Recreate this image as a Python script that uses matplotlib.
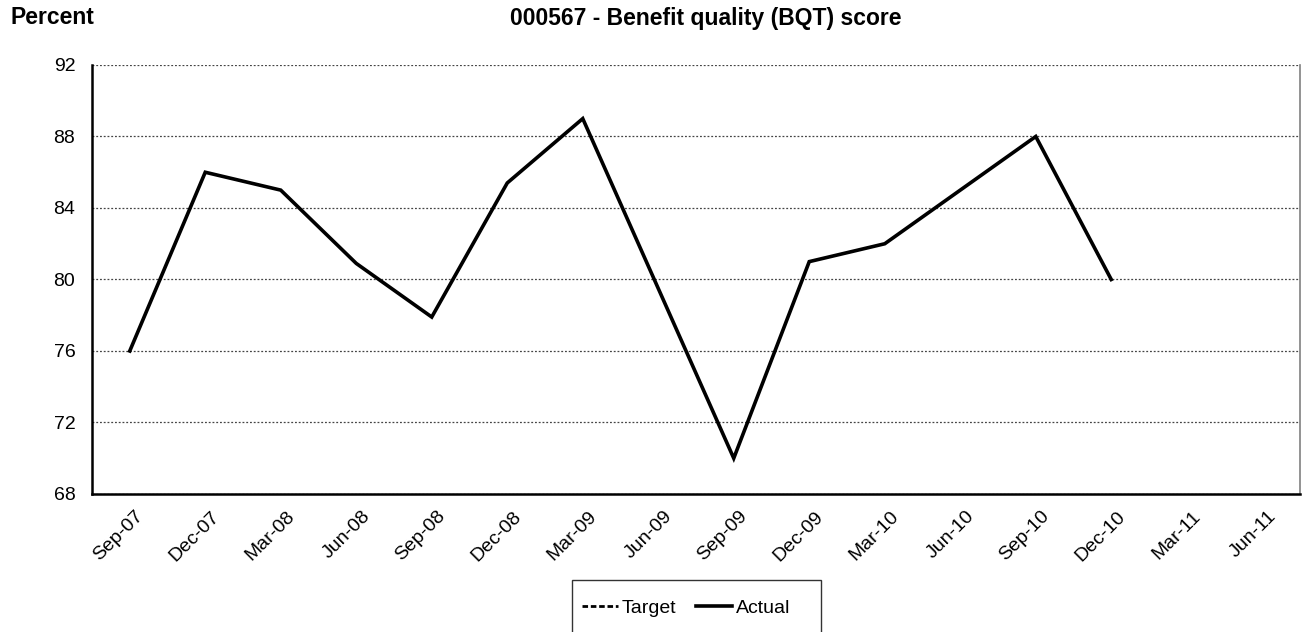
import matplotlib
matplotlib.use("Agg")
import matplotlib.pyplot as plt
import matplotlib.transforms as mtransforms
from matplotlib.patches import Rectangle
import numpy as np

plt.rcParams['font.family'] = ['Liberation Sans', 'DejaVu Sans']

categories = ["Sep-07", "Dec-07", "Mar-08", "Jun-08", "Sep-08", "Dec-08", "Mar-09", "Jun-09",
              "Sep-09", "Dec-09", "Mar-10", "Jun-10", "Sep-10", "Dec-10", "Mar-11", "Jun-11"]
actual = [76.0, 86.0, 85.0, 80.9, 77.9, 85.4, 89.0, 79.5,
          70.0, 81.0, 82.0, 85.0, 88.0, 80.0, np.nan, np.nan]
target = [np.nan] * len(categories)
y_ticks = [68, 72, 76, 80, 84, 88, 92]

W, H = 1309, 632
fig = plt.figure(figsize=(W/100, H/100), dpi=100)
ax = fig.add_axes([92/W, 1-494/H, (1300-92)/W, (494-65)/H])

x = np.arange(len(categories))
ax.plot(x, target, color='black', lw=2.0, ls=(0, (2.0, 1.0)), label='Target')
ax.plot(x, actual, color='black', lw=2.6, solid_joinstyle='miter', label='Actual')

ax.set_xlim(-0.5, len(categories) - 0.5)
ax.set_ylim(68, 92)
ax.set_yticks(y_ticks)
ax.set_xticks(x)
ax.set_xticklabels(categories, rotation=45, ha='right', va='top', rotation_mode='anchor', fontsize=14)
ax.tick_params(axis='x', length=0, pad=10)
ax.tick_params(axis='y', length=0, pad=12, labelsize=14)
offset = mtransforms.ScaledTranslation(5/100, 0, fig.dpi_scale_trans)
for t in ax.get_xticklabels():
    t.set_transform(t.get_transform() + offset)

ax.yaxis.grid(True, color='#444444', ls=(0, (1.5, 1.5)), lw=0.9)
ax.set_axisbelow(True)
ax.spines['top'].set_visible(False)
ax.spines['right'].set_color('#808080')
ax.spines['right'].set_linewidth(1.2)
ax.spines['left'].set_linewidth(1.8)
ax.spines['bottom'].set_linewidth(1.8)

fig.text(10/W, 1-18/H, "Percent", fontsize=16.5, fontweight='bold', ha='left', va='center')
fig.text(510/W, 1-19/H, "000567 - Benefit quality (BQT) score", fontsize=16.5,
         fontweight='bold', ha='left', va='center')

# legend frame (extends past the bottom edge as in the reference)
fig.patches.append(Rectangle((572/W, 1-645/H), (821-572)/W, (645-580)/H,
                             transform=fig.transFigure, fill=False,
                             edgecolor='#333333', lw=1.0, figure=fig))
leg = fig.legend(loc='center left', bbox_to_anchor=(578/W, 1-608/H), ncol=2, fontsize=14,
                 frameon=False, handlelength=1.85, columnspacing=1.0, handletextpad=0.2,
                 borderpad=0.2, borderaxespad=0)

fig.savefig("out.png", dpi=100)
